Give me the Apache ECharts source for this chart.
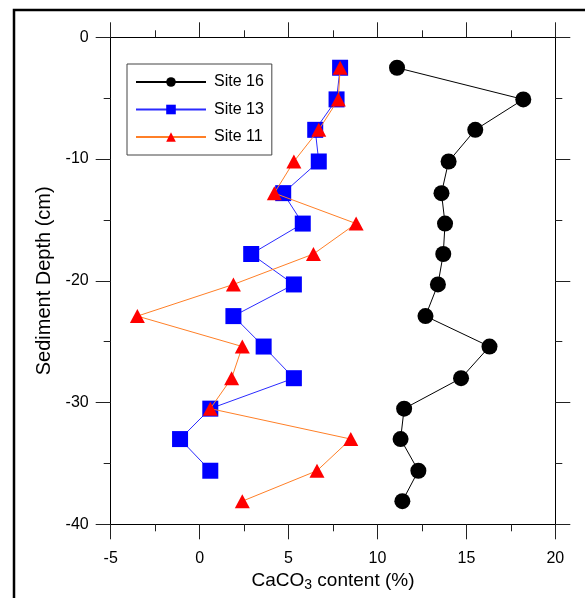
<!DOCTYPE html>
<html>
<head>
<meta charset="utf-8">
<script src="https://cdn.jsdelivr.net/npm/echarts@6/dist/echarts.min.js"></script>
<style>
html,body{margin:0;padding:0;background:#fff;}
#main{width:585px;height:598px;}
</style>
</head>
<body>
<div id="main"></div>
<script>
// Depths (cm)
var depths = [-2.5, -5.1, -7.6, -10.2, -12.8, -15.3, -17.8, -20.3, -22.9, -25.4, -28.0, -30.5, -33.0, -35.6, -38.1];
// CaCO3 content (%)
var site16 = [11.1, 18.2, 15.5, 14.0, 13.6, 13.8, 13.7, 13.4, 12.7, 16.3, 14.7, 11.5, 11.3, 12.3, 11.4];
var site13 = [7.9, 7.7, 6.5, 6.7, 4.7, 5.8, 2.9, 5.3, 1.9, 3.6, 5.3, 0.6, -1.1, 0.6];
var site11 = [7.9, 7.8, 6.7, 5.3, 4.2, 8.8, 6.4, 1.9, -3.5, 2.4, 1.8, 0.6, 8.5, 6.6, 2.4];
var xTicks = {min: -5, max: 20, interval: 5};
var yTicks = {min: -40, max: 0, interval: 10};

function pairs(vals){ return vals.map(function(v,i){ return [v, depths[i]]; }); }

var font = 'Liberation Sans, Arial, Helvetica, sans-serif';
var axisCommon = {
  axisLine: {show: true, onZero: false, lineStyle: {color: '#000', width: 1}},
  axisTick: {show: true, inside: false, length: 15, lineStyle: {color: '#222', width: 1}},
  minorTick: {show: true, splitNumber: 2, length: 7, lineStyle: {color: '#222', width: 1}},
  splitLine: {show: false},
  minorSplitLine: {show: false}
};

var chart = echarts.init(document.getElementById('main'), null, {renderer: 'canvas'});
chart.setOption({
  animation: false,
  backgroundColor: '#fff',
  textStyle: {fontFamily: font},
  graphic: [{
    type: 'rect', shape: {x: 14, y: 10, width: 620, height: 640},
    style: {fill: 'none', stroke: '#000', lineWidth: 2.5}, silent: true, z: 0
  }],
  grid: {left: 110.7, right: 29.7, top: 37.3, bottom: 73.7, containLabel: false},
  legend: {
    orient: 'vertical', left: 127, top: 64,
    padding: [10, 8, 10, 8],
    itemWidth: 70, itemHeight: 12, itemGap: 11.5,
    borderColor: '#444', borderWidth: 1, backgroundColor: '#fff',
    lineStyle: {width: 2},
    textStyle: {fontFamily: font, fontSize: 16, color: '#000', padding: [0, 0, 0, 3]},
    data: ['Site 16', 'Site 13', 'Site 11']
  },
  xAxis: [
    Object.assign({type: 'value', position: 'bottom', min: xTicks.min, max: xTicks.max, interval: xTicks.interval,
      axisLabel: {show: true, fontSize: 16, color: '#000', margin: 26, fontFamily: font},
      name: 'CaCO{sub|3} content (%)', nameLocation: 'middle', nameGap: 45,
      nameTextStyle: {fontSize: 19, color: '#000', fontFamily: font,
        rich: {sub: {fontSize: 14, verticalAlign: 'bottom', padding: [8, 0, 0, 0], fontFamily: font, color: '#000'}}}
    }, axisCommon),
    Object.assign({type: 'value', position: 'top', min: xTicks.min, max: xTicks.max, interval: xTicks.interval,
      axisLabel: {show: false}}, axisCommon)
  ],
  yAxis: [
    Object.assign({type: 'value', position: 'left', min: yTicks.min, max: yTicks.max, interval: yTicks.interval,
      axisLabel: {show: true, fontSize: 16, color: '#000', margin: 22, fontFamily: font},
      name: 'Sediment Depth (cm)', nameLocation: 'middle', nameGap: 53,
      nameTextStyle: {fontSize: 20, color: '#000', fontFamily: font}
    }, axisCommon),
    Object.assign({type: 'value', position: 'right', min: yTicks.min, max: yTicks.max, interval: yTicks.interval,
      axisLabel: {show: false}}, axisCommon)
  ],
  series: [
    {name: 'Site 16', type: 'line', xAxisIndex: 0, yAxisIndex: 0, data: pairs(site16),
      symbol: 'circle', symbolSize: 16, z: 3,
      lineStyle: {color: '#000', width: 1}, itemStyle: {color: '#000'}},
    {name: 'Site 13', type: 'line', xAxisIndex: 0, yAxisIndex: 0, data: pairs(site13),
      symbol: 'rect', symbolSize: 16, z: 4,
      lineStyle: {color: '#2b2bff', width: 1}, itemStyle: {color: '#0000ff'}},
    {name: 'Site 11', type: 'line', xAxisIndex: 0, yAxisIndex: 0, data: pairs(site11),
      symbol: 'triangle', symbolSize: [15, 14], z: 5,
      lineStyle: {color: '#ff7f27', width: 1}, itemStyle: {color: '#ff0000'}}
  ]
});
</script>
</body>
</html>
